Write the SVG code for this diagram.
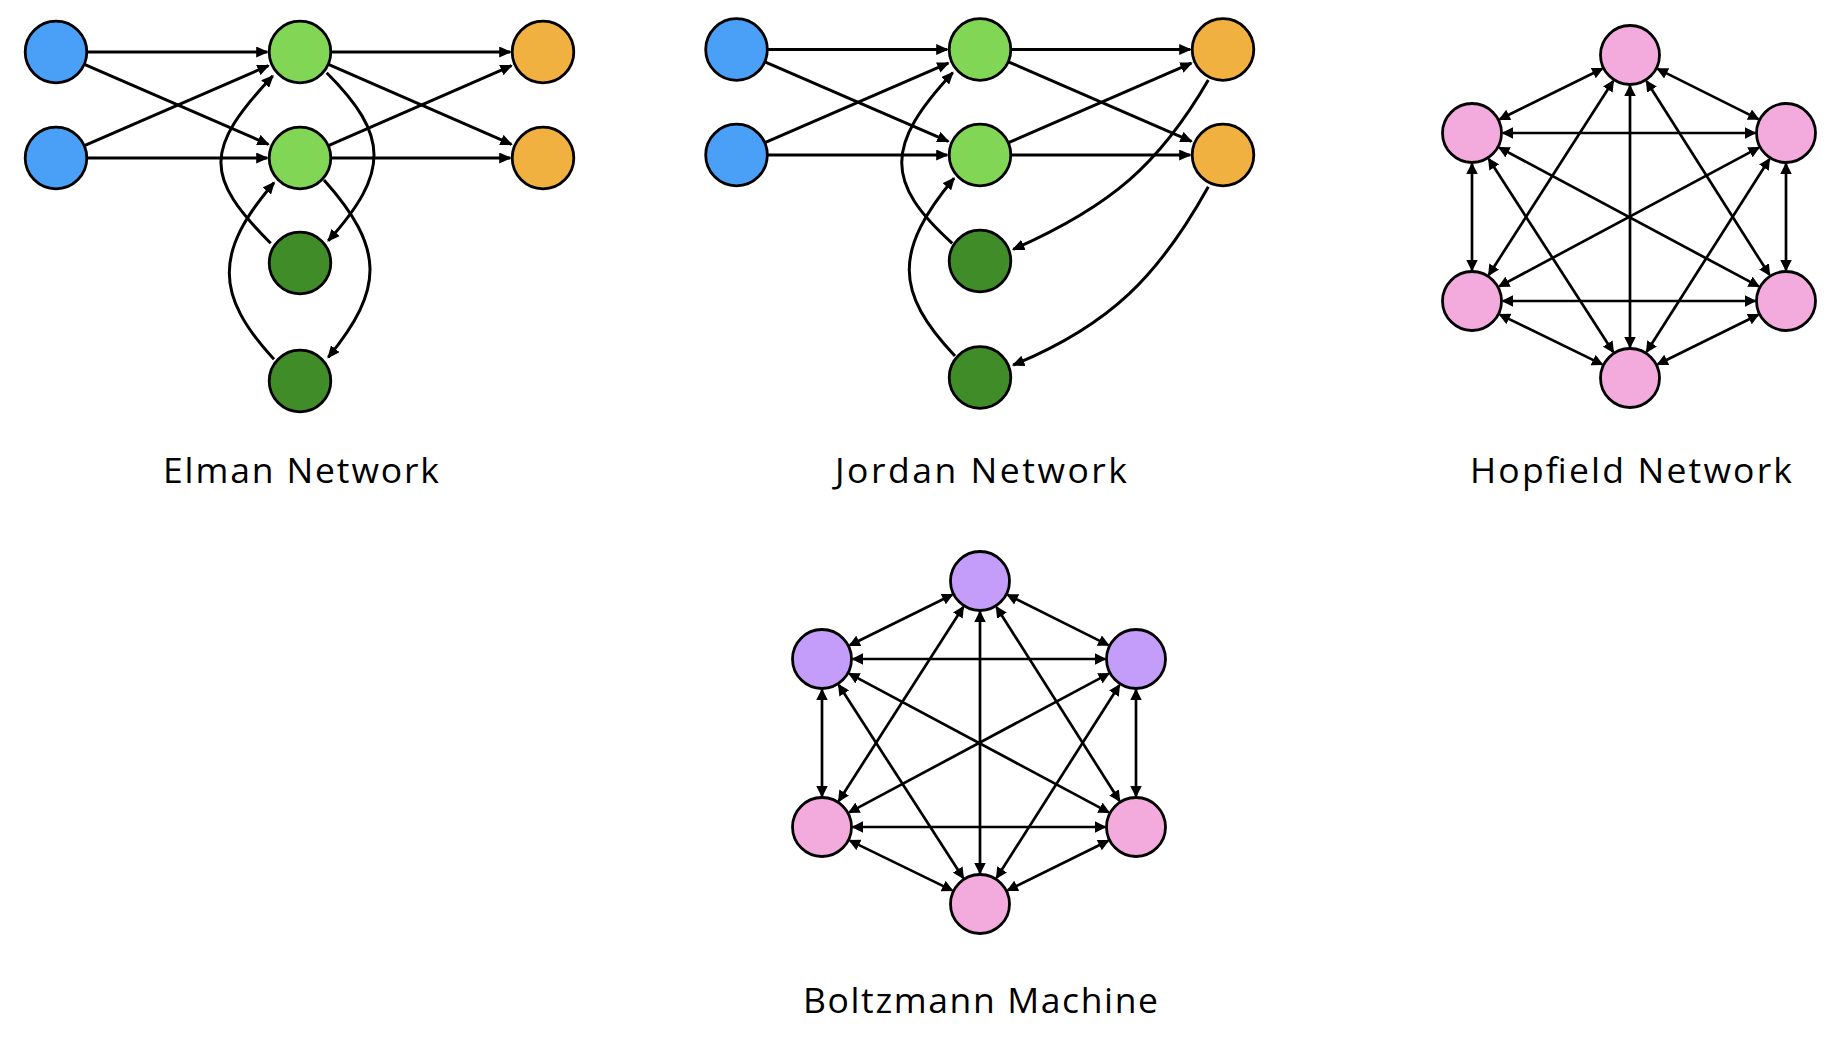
<svg xmlns="http://www.w3.org/2000/svg" width="1844" height="1039" viewBox="0 0 1844 1039">
<style>
.e{fill:none;stroke:#000;stroke-width:3;marker-end:url(#ah)}
.b{fill:none;stroke:#000;stroke-width:2.7;marker-end:url(#ah2);marker-start:url(#ah2)}
.n{stroke:#000;stroke-width:2.8}
.blue{fill:#4A9FF7}
.lg{fill:#82D656}
.dg{fill:#408C29}
.or{fill:#F1B140}
.pk{fill:#F3AADD}
.pu{fill:#C39DF9}
.lbl{font-family:"Open Sans","Noto Sans",sans-serif;font-size:35.5px;fill:#000;text-anchor:middle}
</style>
<defs>
<marker id="ah" viewBox="0 0 12.5 11" refX="11" refY="5.5" markerWidth="12.5" markerHeight="11" markerUnits="userSpaceOnUse" orient="auto-start-reverse">
<path d="M0,0 L12.5,5.5 L0,11 z" fill="#000"/>
</marker>
<marker id="ah2" viewBox="0 0 11.5 11.5" refX="10" refY="5.75" markerWidth="11.5" markerHeight="11.5" markerUnits="userSpaceOnUse" orient="auto-start-reverse">
<path d="M0,0 L11.5,5.75 L0,11.5 z" fill="#000"/>
</marker>
</defs>
<rect width="1844" height="1039" fill="#fff"/>

<g id="connectors">
<!-- Elman -->
<path class="e" d="M88,52 H267.2"/>
<path class="e" d="M88,158 H267.2"/>
<path class="e" d="M84.4,64.4 L268.4,144.3"/>
<path class="e" d="M84.4,145.6 L268.4,65.7"/>
<path class="e" d="M332,52 H510.2"/>
<path class="e" d="M332,158 H510.2"/>
<path class="e" d="M328.4,64.4 L511.4,144.3"/>
<path class="e" d="M328.4,145.6 L511.4,65.7"/>
<path class="e" d="M270.7,243.3 C204,176.6 204,149 272.7,76"/>
<path class="e" d="M326.7,72.7 C389.5,135.5 389.5,172.7 328.3,240.7"/>
<path class="e" d="M274,359.3 C214.4,294.5 214.4,252 274,182.7"/>
<path class="e" d="M324,180 C384.6,248 384.6,288.6 328.3,357.3"/>
<!-- Jordan -->
<path class="e" d="M768,49.5 H947.2"/>
<path class="e" d="M768,155 H947.2"/>
<path class="e" d="M764.9,61.8 L948.3,141.3"/>
<path class="e" d="M764.9,142.7 L948.3,63.2"/>
<path class="e" d="M1011,49.5 H1190.2"/>
<path class="e" d="M1011,155 H1190.2"/>
<path class="e" d="M1008.4,61.8 L1191.4,141.3"/>
<path class="e" d="M1008.4,142.7 L1191.4,63.2"/>
<path class="e" d="M952.3,243.3 C884.8,182.6 884.8,145.4 952.7,72.7"/>
<path class="e" d="M955,356 C894.2,292 894.2,250 954,178.3"/>
<path class="e" d="M1208.3,80 C1159.5,164.1 1110.8,206.4 1013.3,249.3"/>
<path class="e" d="M1208.3,186.7 C1159.5,274.7 1110.8,325 1013.3,365"/>
<!-- Hopfield -->
<g id="hop-edges">
<path class="b" d="M1602.2,68.7 L1499.8,119.3"/>
<path class="b" d="M1657.7,68.9 L1758.3,119.1"/>
<path class="b" d="M1613.2,81.1 L1488.8,274.9"/>
<path class="b" d="M1646.6,81.2 L1769.4,274.8"/>
<path class="b" d="M1630,86 L1630,347"/>
<path class="b" d="M1503,133 L1755,133"/>
<path class="b" d="M1472,164 L1472,270"/>
<path class="b" d="M1499.3,147.6 L1758.7,286.4"/>
<path class="b" d="M1488.8,159.1 L1613.2,351.9"/>
<path class="b" d="M1758.7,147.6 L1499.3,286.4"/>
<path class="b" d="M1786,164 L1786,270"/>
<path class="b" d="M1769.3,159.2 L1646.7,351.8"/>
<path class="b" d="M1503,301 L1755,301"/>
<path class="b" d="M1499.9,314.6 L1602.1,364.4"/>
<path class="b" d="M1758.2,314.7 L1657.8,364.3"/>
</g>
<!-- Boltzmann -->
<g id="boltz-edges" transform="translate(-650,526)">
<path class="b" d="M1602.2,68.7 L1499.8,119.3"/>
<path class="b" d="M1657.7,68.9 L1758.3,119.1"/>
<path class="b" d="M1613.2,81.1 L1488.8,274.9"/>
<path class="b" d="M1646.6,81.2 L1769.4,274.8"/>
<path class="b" d="M1630,86 L1630,347"/>
<path class="b" d="M1503,133 L1755,133"/>
<path class="b" d="M1472,164 L1472,270"/>
<path class="b" d="M1499.3,147.6 L1758.7,286.4"/>
<path class="b" d="M1488.8,159.1 L1613.2,351.9"/>
<path class="b" d="M1758.7,147.6 L1499.3,286.4"/>
<path class="b" d="M1786,164 L1786,270"/>
<path class="b" d="M1769.3,159.2 L1646.7,351.8"/>
<path class="b" d="M1503,301 L1755,301"/>
<path class="b" d="M1499.9,314.6 L1602.1,364.4"/>
<path class="b" d="M1758.2,314.7 L1657.8,364.3"/>
</g>
</g>

<!-- Elman nodes -->
<g id="elman-in1"><circle class="n blue" cx="56" cy="52" r="30.8"/></g>
<g id="elman-in2"><circle class="n blue" cx="56" cy="158" r="30.8"/></g>
<g id="elman-h1"><circle class="n lg" cx="300" cy="52" r="30.8"/></g>
<g id="elman-h2"><circle class="n lg" cx="300" cy="158" r="30.8"/></g>
<g id="elman-c1"><circle class="n dg" cx="300" cy="263" r="30.8"/></g>
<g id="elman-c2"><circle class="n dg" cx="300" cy="381" r="30.8"/></g>
<g id="elman-o1"><circle class="n or" cx="543" cy="52" r="30.8"/></g>
<g id="elman-o2"><circle class="n or" cx="543" cy="158" r="30.8"/></g>
<g id="elman-label"><text class="lbl" x="301" y="483" textLength="276">Elman Network</text></g>

<!-- Jordan nodes -->
<g id="jordan-in1"><circle class="n blue" cx="736.5" cy="49.5" r="30.8"/></g>
<g id="jordan-in2"><circle class="n blue" cx="736.5" cy="155" r="30.8"/></g>
<g id="jordan-h1"><circle class="n lg" cx="980" cy="49.5" r="30.8"/></g>
<g id="jordan-h2"><circle class="n lg" cx="980" cy="155" r="30.8"/></g>
<g id="jordan-c1"><circle class="n dg" cx="980" cy="261" r="30.8"/></g>
<g id="jordan-c2"><circle class="n dg" cx="980" cy="377.5" r="30.8"/></g>
<g id="jordan-o1"><circle class="n or" cx="1223" cy="49.5" r="30.8"/></g>
<g id="jordan-o2"><circle class="n or" cx="1223" cy="155" r="30.8"/></g>
<g id="jordan-label"><text class="lbl" x="981" y="483" textLength="292">Jordan Network</text></g>

<!-- Hopfield nodes -->
<g id="hop-t"><circle class="n pk" cx="1630" cy="55" r="29.5"/></g>
<g id="hop-ul"><circle class="n pk" cx="1472" cy="133" r="29.5"/></g>
<g id="hop-ur"><circle class="n pk" cx="1786" cy="133" r="29.5"/></g>
<g id="hop-ll"><circle class="n pk" cx="1472" cy="301" r="29.5"/></g>
<g id="hop-lr"><circle class="n pk" cx="1786" cy="301" r="29.5"/></g>
<g id="hop-b"><circle class="n pk" cx="1630" cy="378" r="29.5"/></g>
<g id="hop-label"><text class="lbl" x="1631" y="483" textLength="322">Hopfield Network</text></g>

<!-- Boltzmann nodes -->
<g id="boltz-t"><circle class="n pu" cx="980" cy="581" r="29.5"/></g>
<g id="boltz-ul"><circle class="n pu" cx="822" cy="659" r="29.5"/></g>
<g id="boltz-ur"><circle class="n pu" cx="1136" cy="659" r="29.5"/></g>
<g id="boltz-ll"><circle class="n pk" cx="822" cy="827" r="29.5"/></g>
<g id="boltz-lr"><circle class="n pk" cx="1136" cy="827" r="29.5"/></g>
<g id="boltz-b"><circle class="n pk" cx="980" cy="904" r="29.5"/></g>
<g id="boltz-label"><text class="lbl" x="980.5" y="1013" textLength="355">Boltzmann Machine</text></g>
</svg>
